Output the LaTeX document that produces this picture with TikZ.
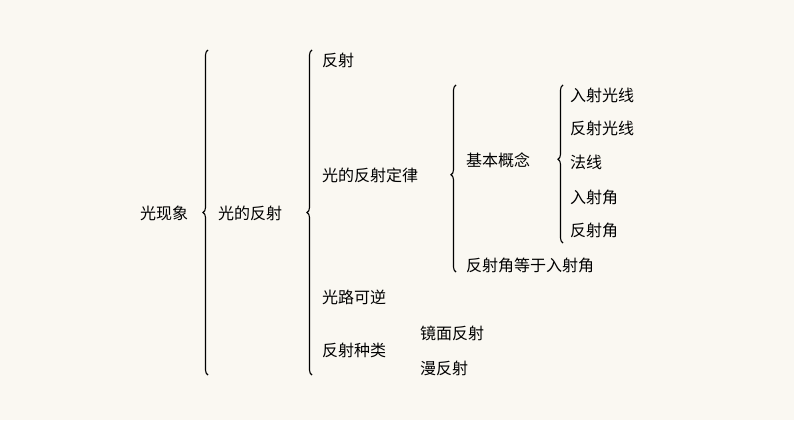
\documentclass[tikz,border=0pt]{standalone}
\usepackage{fontspec}
\setmainfont{Noto Sans CJK SC}
\usetikzlibrary{decorations.pathreplacing}
\definecolor{bg}{HTML}{FAF8F2}
\begin{document}
\begin{tikzpicture}[x=1pt,y=-1pt,
  t/.style={anchor=west,inner sep=0pt,font=\fontsize{16}{16}\selectfont},
  br/.style={draw,line width=1.1pt,decorate,decoration={brace,mirror,amplitude=5pt,aspect=#1}}]
\fill[bg] (0,0) rectangle (794,420);
\useasboundingbox (0,0) rectangle (794,420);
\node[t] (a) at (140,213) {光现象};
\node[t] (b) at (218,213) {光的反射};
\node[t] (c1) at (322,60) {反射};
\node[t] (c2) at (322,175) {光的反射定律};
\node[t] (c3) at (322,297) {光路可逆};
\node[t] (c4) at (322,350) {反射种类};
\node[t] (d1) at (466,160) {基本概念};
\node[t] (d2) at (466,265) {反射角等于入射角};
\node[t] (e1) at (570,95) {入射光线};
\node[t] (e2) at (570,128) {反射光线};
\node[t] (e3) at (570,162) {法线};
\node[t] (e4) at (570,197) {入射角};
\node[t] (e5) at (570,230) {反射角};
\node[t] (f1) at (420,333) {镜面反射};
\node[t] (f2) at (420,368) {漫反射};
\coordinate (b1s) at (208,50); \coordinate (b1e) at (208,375);
\coordinate (b2s) at (312,50); \coordinate (b2e) at (312,375);
\coordinate (b3s) at (456,85); \coordinate (b3e) at (456,272);
\coordinate (b4s) at (563,85); \coordinate (b4e) at (563,243);
\draw[br=0.5] (b1s) -- (b1e);
\draw[br=0.5] (b2s) -- (b2e);
\draw[br=0.48] (b3s) -- (b3e);
\draw[br=0.47] (b4s) -- (b4e);
\end{tikzpicture}
\end{document}
